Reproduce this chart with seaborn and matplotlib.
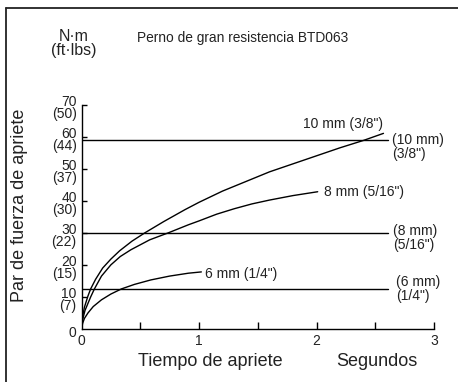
import matplotlib
matplotlib.use("Agg")
import matplotlib.pyplot as plt
import matplotlib.transforms as mtransforms
from matplotlib.lines import Line2D
import seaborn as sns

# Torque curves (time in s, torque in N·m)
t_10mm = [0, 0.01, 0.025, 0.055, 0.078, 0.12, 0.18, 0.25, 0.325, 0.43, 0.54, 0.7, 0.88, 1.0,
          1.2, 1.4, 1.6, 1.8, 2.0, 2.2, 2.4, 2.57]
v_10mm = [0, 4, 6.8, 10.3, 12.5, 15.5, 19, 21.8, 24.4, 27.4, 30, 33.5, 37.2, 39.5,
          43, 46, 49, 51.5, 54, 56.5, 58.8, 61]

t_8mm = [0, 0.01, 0.03, 0.078, 0.11, 0.17, 0.25, 0.33, 0.42, 0.58, 0.74, 0.91, 1.0,
         1.15, 1.3, 1.45, 1.6, 1.8, 2.01]
v_8mm = [0, 3, 5.8, 10, 12.5, 16.5, 20, 22.6, 24.7, 27.8, 30, 32.5, 33.7,
         35.8, 37.5, 39, 40.2, 41.6, 42.8]

t_6mm = [0, 0.01, 0.025, 0.055, 0.1, 0.17, 0.25, 0.34, 0.45, 0.59, 0.75, 0.91, 1.02]
v_6mm = [0, 1.8, 3.3, 5, 7, 9.1, 10.9, 12.5, 13.9, 15.3, 16.5, 17.4, 17.8]

# Recommended torque limits (horizontal lines)
limit_values = [58.8, 30, 12.5]
limit_end = 2.61
limit_labels = ['(10 mm)\n(3/8")', '(8 mm)\n(5/16")', '(6 mm)\n(1/4")']

curve_labels = ['10 mm (3/8")', '8 mm (5/16")', '6 mm (1/4")']

y_ticks = [0, 10, 20, 30, 40, 50, 60, 70]
y_ticklabels = ["0", "10\n(7)", "20\n(15)", "30\n(22)", "40\n(30)", "50\n(37)", "60\n(44)", "70\n(50)"]
x_ticks = [0, 0.5, 1, 1.5, 2, 2.5, 3]
x_ticklabels = ["0", "", "1", "", "2", "", "3"]

sns.set_style("white")
plt.rcParams['font.family'] = ['Liberation Sans', 'DejaVu Sans']

W, H = 458, 382
TXT = "#222222"
fig = plt.figure(figsize=(W / 100, H / 100), dpi=100)
ax = fig.add_axes([81.5 / W, (H - 329) / H, 352.5 / W, 224.5 / H])
ax.set_facecolor("none")

for tt, vv in [(t_10mm, v_10mm), (t_8mm, v_8mm), (t_6mm, v_6mm)]:
    sns.lineplot(x=tt, y=vv, color="black", lw=1.0, estimator=None, ax=ax,
                 solid_joinstyle="round")

for v in limit_values:
    sns.lineplot(x=[0, limit_end], y=[v, v], color="black", lw=1.0, estimator=None, ax=ax)

ax.set_xlim(0, 3)
ax.set_ylim(0, 70)
ax.set_xlabel("")
ax.set_ylabel("")

for s in ["top", "right"]:
    ax.spines[s].set_visible(False)
for s in ["left", "bottom"]:
    ax.spines[s].set_color("black")
    ax.spines[s].set_linewidth(1.0)

ax.set_yticks(y_ticks)
ax.set_yticklabels(y_ticklabels, fontsize=10, linespacing=0.85, color=TXT)
ax.set_xticks(x_ticks)
ax.set_xticklabels(x_ticklabels, fontsize=10, color=TXT)
ax.tick_params(axis="y", left=True, direction="in", length=3.8, width=1.0, pad=3.5, color="black")
ax.tick_params(axis="x", bottom=True, direction="in", length=5, width=1.0, pad=3.5, color="black")
ax.yaxis.get_major_ticks()[0].tick1line.set_visible(False)
ax.xaxis.get_major_ticks()[0].tick1line.set_visible(False)

off = mtransforms.ScaledTranslation(0, -2.5 / 100, fig.dpi_scale_trans)
for lbl in ax.get_yticklabels():
    lbl.set_transform(lbl.get_transform() + off)
    lbl.set_multialignment("right")

# curve labels
ax.text(2.57, 63.8, curve_labels[0], ha="right", va="center", fontsize=10, color=TXT)
ax.text(2.06, 42.6, curve_labels[1], ha="left", va="center", fontsize=10, color=TXT)
ax.text(1.05, 17.3, curve_labels[2], ha="left", va="center", fontsize=10, color=TXT)

# limit labels
ax.text(2.64, 56.7, limit_labels[0], ha="left", va="center", fontsize=10, linespacing=0.95, color=TXT, clip_on=False)
ax.text(2.65, 28.4, limit_labels[1], ha="left", va="center", fontsize=10, linespacing=0.95, color=TXT, clip_on=False)
ax.text(2.68, 12.5, limit_labels[2], ha="left", va="center", fontsize=10, linespacing=0.95, color=TXT, clip_on=False)

# figure texts
fig.text(242.5 / W, 1 - 38 / H, "Perno de gran resistencia BTD063", ha="center", va="center", fontsize=9.9, color=TXT)
fig.text(74 / W, 1 - 43.5 / H, "N·m\n(ft·lbs)", ha="center", va="center", fontsize=11.5, linespacing=0.9, color=TXT)
fig.text(210 / W, 1 - 362 / H, "Tiempo de apriete", ha="center", va="center", fontsize=13, color=TXT)
fig.text(377 / W, 1 - 362 / H, "Segundos", ha="center", va="center", fontsize=13, color=TXT)
fig.text(20 / W, 1 - 205 / H, "Par de fuerza de apriete", ha="center", va="center", rotation=90, fontsize=13, color=TXT)

# frame
fig.add_artist(Line2D([6 / W, 6 / W], [0, 1 - 8 / H], color=TXT, lw=1.3, transform=fig.transFigure))
fig.add_artist(Line2D([6 / W, 1], [1 - 8 / H, 1 - 8 / H], color=TXT, lw=1.3, transform=fig.transFigure))

fig.savefig("out.png", dpi=100)
